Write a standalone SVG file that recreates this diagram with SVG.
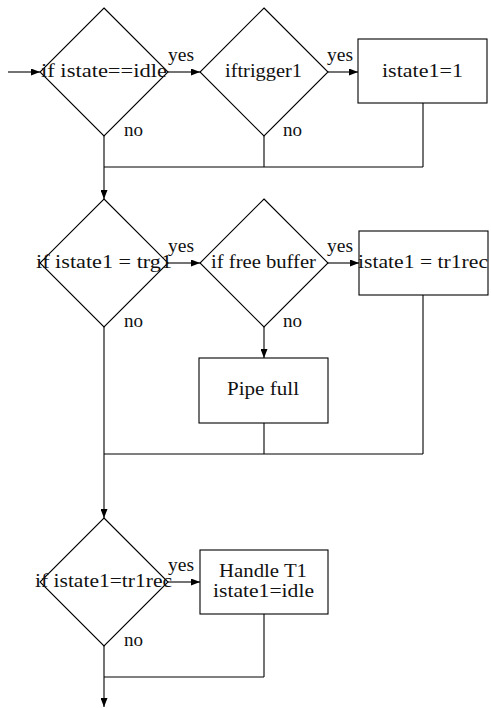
<svg xmlns="http://www.w3.org/2000/svg" width="491" height="708" viewBox="0 0 491 708">
<defs>
<marker id="ah" markerWidth="9" markerHeight="7" refX="9" refY="3.5" orient="auto" markerUnits="userSpaceOnUse">
<path d="M0,0 L9,3.5 L0,7 z" fill="#000"/>
</marker>
<style>
.shape{fill:#fff;stroke:#000;stroke-width:1.1}
.ln{fill:none;stroke:#000;stroke-width:1.1}
.arr{fill:none;stroke:#000;stroke-width:1.1;marker-end:url(#ah)}
text{font-family:'Liberation Serif','DejaVu Serif',serif;font-size:19px;fill:#111}
</style>
</defs>
<rect width="491" height="708" fill="#fff"/>
<g id="connectors">
<line class="arr" x1="8" y1="72" x2="40" y2="72"/>
<line class="arr" x1="168" y1="72" x2="200" y2="72"/>
<line class="arr" x1="328" y1="72" x2="358" y2="72"/>
<line class="ln" x1="264" y1="136" x2="264" y2="167"/>
<line class="ln" x1="423" y1="103" x2="423" y2="167"/>
<line class="ln" x1="104" y1="167" x2="423" y2="167"/>
<line class="arr" x1="104" y1="136" x2="104" y2="199"/>
<line class="arr" x1="168" y1="263" x2="200" y2="263"/>
<line class="arr" x1="328" y1="263" x2="359" y2="263"/>
<line class="arr" x1="264" y1="327" x2="264" y2="358"/>
<line class="ln" x1="423" y1="295" x2="423" y2="454"/>
<line class="ln" x1="264" y1="423" x2="264" y2="454"/>
<line class="ln" x1="104" y1="454" x2="423" y2="454"/>
<line class="arr" x1="104" y1="327" x2="104" y2="518"/>
<line class="arr" x1="168" y1="582" x2="200" y2="582"/>
<line class="ln" x1="264" y1="614" x2="264" y2="677"/>
<line class="ln" x1="104" y1="677" x2="264" y2="677"/>
<line class="arr" x1="104" y1="646" x2="104" y2="707"/>
<g font-family="'Liberation Serif','DejaVu Serif',serif">
<text x="168" y="61" textLength="26" lengthAdjust="spacingAndGlyphs">yes</text>
<text x="327" y="61" textLength="26" lengthAdjust="spacingAndGlyphs">yes</text>
<text x="124" y="136" textLength="19" lengthAdjust="spacingAndGlyphs">no</text>
<text x="283" y="136" textLength="19" lengthAdjust="spacingAndGlyphs">no</text>
<text x="168" y="252" textLength="26" lengthAdjust="spacingAndGlyphs">yes</text>
<text x="327" y="252" textLength="26" lengthAdjust="spacingAndGlyphs">yes</text>
<text x="124" y="327" textLength="19" lengthAdjust="spacingAndGlyphs">no</text>
<text x="283" y="327" textLength="19" lengthAdjust="spacingAndGlyphs">no</text>
<text x="168" y="571" textLength="26" lengthAdjust="spacingAndGlyphs">yes</text>
<text x="124" y="646" textLength="19" lengthAdjust="spacingAndGlyphs">no</text>
</g>
</g>
<g id="d1" font-family="'Liberation Serif','DejaVu Serif',serif">
<polygon class="shape" points="104,8 168,72 104,136 40,72"/>
<text x="41" y="77" textLength="126" lengthAdjust="spacingAndGlyphs">if istate==idle</text>
</g>
<g id="d2" font-family="'Liberation Serif','DejaVu Serif',serif">
<polygon class="shape" points="264,8 328,72 264,136 200,72"/>
<text x="225" y="77" textLength="77" lengthAdjust="spacingAndGlyphs">iftrigger1</text>
</g>
<g id="b1" font-family="'Liberation Serif','DejaVu Serif',serif">
<rect class="shape" x="358" y="39" width="129" height="64"/>
<text x="382" y="77" textLength="81" lengthAdjust="spacingAndGlyphs">istate1=1</text>
</g>
<g id="d3" font-family="'Liberation Serif','DejaVu Serif',serif">
<polygon class="shape" points="104,199 168,263 104,327 40,263"/>
<text x="36" y="268" textLength="136" lengthAdjust="spacingAndGlyphs">if istate1 = trg1</text>
</g>
<g id="d4" font-family="'Liberation Serif','DejaVu Serif',serif">
<polygon class="shape" points="264,199 328,263 264,327 200,263"/>
<text x="211" y="268" textLength="105" lengthAdjust="spacingAndGlyphs">if free buffer</text>
</g>
<g id="b2" font-family="'Liberation Serif','DejaVu Serif',serif">
<rect class="shape" x="359" y="231" width="129" height="64"/>
<text x="358" y="268" textLength="130" lengthAdjust="spacingAndGlyphs">istate1 = tr1rec</text>
</g>
<g id="b3" font-family="'Liberation Serif','DejaVu Serif',serif">
<rect class="shape" x="199" y="358" width="129" height="65"/>
<text x="227" y="395" textLength="72" lengthAdjust="spacingAndGlyphs">Pipe full</text>
</g>
<g id="d5" font-family="'Liberation Serif','DejaVu Serif',serif">
<polygon class="shape" points="104,518 168,582 104,646 40,582"/>
<text x="35" y="587" textLength="137" lengthAdjust="spacingAndGlyphs">if istate1=tr1rec</text>
</g>
<g id="b4" font-family="'Liberation Serif','DejaVu Serif',serif">
<rect class="shape" x="200" y="550" width="128" height="64"/>
<text x="219" y="577" textLength="88" lengthAdjust="spacingAndGlyphs">Handle T1</text>
<text x="213" y="597" textLength="101" lengthAdjust="spacingAndGlyphs">istate1=idle</text>
</g>
</svg>
